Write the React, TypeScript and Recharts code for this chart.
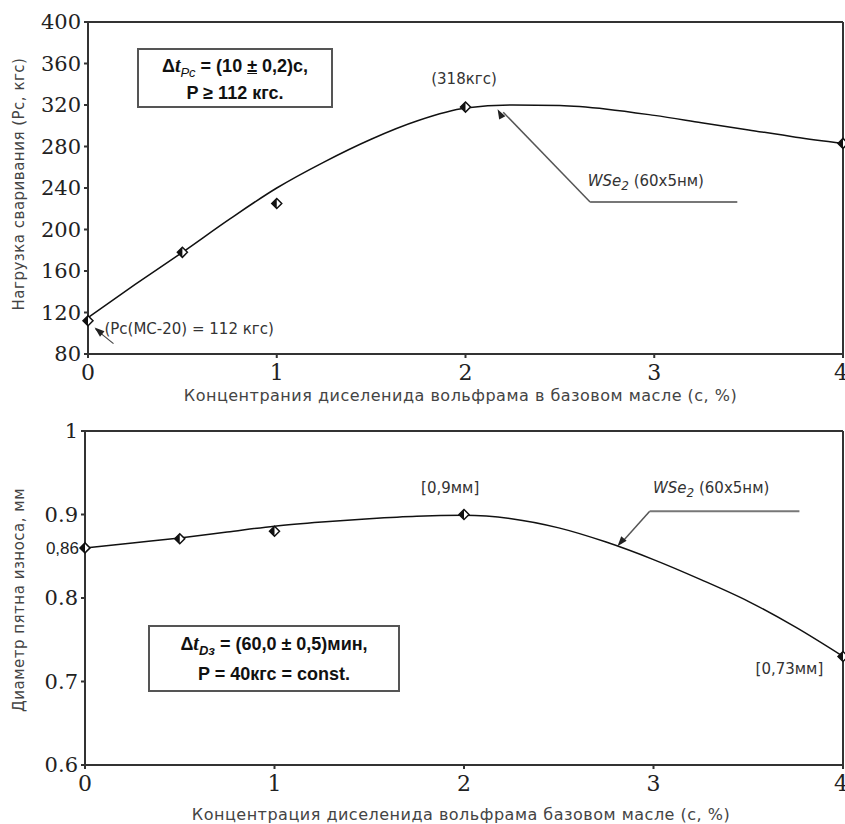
import React from 'react';
import { ComposedChart, Line, Scatter, XAxis, YAxis, ReferenceLine, ReferenceDot, Label } from 'recharts';

// ---- Top chart: weld load vs concentration ----
const topPointsX = [0, 0.5, 1, 2, 4];
const topPointsY = [112, 178, 225, 318, 283];
const topCurveX = [0, 0.25, 0.5, 0.75, 1, 1.25, 1.5, 1.75, 2, 2.25, 2.5, 2.75, 3, 3.25, 3.5, 3.75, 4];
const topCurveY = [115, 147, 178, 210, 240, 265, 287, 305, 317, 320, 319.5, 316, 310, 303, 296, 289, 283];
const topYTicks = [80, 120, 160, 200, 240, 280, 320, 360, 400];

// ---- Bottom chart: wear scar diameter vs concentration ----
const botPointsX = [0, 0.5, 1, 2, 4];
const botPointsY = [0.86, 0.871, 0.88, 0.9, 0.73];
const botCurveX = [0, 0.25, 0.5, 0.75, 1, 1.25, 1.5, 1.75, 2, 2.25, 2.5, 2.75, 3, 3.25, 3.5, 3.75, 4];
const botCurveY = [0.86, 0.866, 0.872, 0.879, 0.886, 0.891, 0.895, 0.898, 0.899, 0.895, 0.884, 0.867, 0.846, 0.822, 0.796, 0.765, 0.73];
const botYTicks = [0.6, 0.7, 0.8, 0.86, 0.9, 1];

const xTicks = [0, 1, 2, 3, 4];

const topPoints = topPointsX.map((x, i) => ({ x, y: topPointsY[i] }));
const topCurve = topCurveX.map((x, i) => ({ x, y: topCurveY[i] }));
const botPoints = botPointsX.map((x, i) => ({ x, y: botPointsY[i] }));
const botCurve = botCurveX.map((x, i) => ({ x, y: botCurveY[i] }));

const AX = '#333';
const SERIF = '"DejaVu Serif", "Liberation Serif", serif';
const SANS = '"DejaVu Sans", Arial, sans-serif';
const BOLD = '"Liberation Sans", Arial, sans-serif';

const Diamond = (props: any) => {
  const { cx, cy } = props;
  if (cx == null || cy == null) return null;
  const s = 5;
  return (
    <g>
      <polygon points={`${cx},${cy - s} ${cx + s},${cy} ${cx},${cy + s} ${cx - s},${cy}`} fill="#fff" stroke="#111" strokeWidth={1.5} />
      <polygon points={`${cx},${cy - s} ${cx},${cy + s} ${cx - s},${cy}`} fill="#111" />
    </g>
  );
};

const Arrow = (angleDeg: number) => (props: any) => {
  const { cx, cy } = props;
  if (cx == null || cy == null) return null;
  return (
    <polygon points={`${cx},${cy} ${cx + 10},${cy - 3.5} ${cx + 10},${cy + 3.5}`} fill="#222" transform={`rotate(${angleDeg} ${cx} ${cy})`} />
  );
};

const XTick = (props: any) => {
  const { x, y, payload } = props;
  return (
    <text x={x} y={y + 20} textAnchor="middle" fontFamily={SERIF} fontSize={22} fill="#222">{payload.value}</text>
  );
};

const YTickTop = (props: any) => {
  const { x, y, payload } = props;
  return (
    <text x={x - 1} y={y + 7} textAnchor="end" fontFamily={SERIF} fontSize={21} fill="#222">{payload.value}</text>
  );
};

const YTickBot = (props: any) => {
  const { x, y, payload } = props;
  if (payload.value === 0.86) {
    return <text x={x} y={y + 6} textAnchor="end" fontFamily={BOLD} fontSize={17} fill="#222">0,86</text>;
  }
  return (
    <text x={x - 1} y={y + 7} textAnchor="end" fontFamily={SERIF} fontSize={21} fill="#222">{payload.value}</text>
  );
};

const yLabel = (text: string, dy: number) => (p: any) => {
  const vb = p.viewBox;
  const x = 19;
  const y = vb.y + vb.height / 2 + dy;
  return (
    <text x={x} y={y} transform={`rotate(-90 ${x} ${y})`} textAnchor="middle" dominantBaseline="middle" fontFamily={SANS} fontSize={15} letterSpacing={0.5} fill="#444">{text}</text>
  );
};

const xLabel = (text: string, dx: number, yOff: number) => (p: any) => {
  const vb = p.viewBox;
  return (
    <text x={vb.x + vb.width / 2 + dx} y={vb.y + yOff} textAnchor="middle" fontFamily={SANS} fontSize={16} letterSpacing={0.5} fill="#444">{text}</text>
  );
};

const annoStyle = { fontFamily: SANS, fontSize: 15, fill: '#333' };

const boxStyle: React.CSSProperties = {
  position: 'absolute',
  border: '2px solid #555',
  boxSizing: 'border-box',
  background: '#fff',
  fontFamily: BOLD,
  fontWeight: 'bold',
  fontSize: 18,
  color: '#111',
  textAlign: 'center',
  whiteSpace: 'nowrap',
};

const txt = (content: React.ReactNode, anchor: string = 'start') => (p: any) => (
  <text x={p.viewBox.cx ?? p.viewBox.x} y={p.viewBox.cy ?? p.viewBox.y} textAnchor={anchor} {...annoStyle}>{content}</text>
);

const wse = (
  <>
    <tspan fontStyle="italic">WSe</tspan><tspan fontStyle="italic" fontSize={12} dy={4}>2</tspan><tspan dy={-4}> (60х5нм)</tspan>
  </>
);

export default function App() {
  return (
    <div style={{ position: 'absolute', left: 0, top: 0, width: 845, height: 824, background: '#fff' }}>
      <div style={{ position: 'absolute', left: 0, top: 0 }}>
        <ComposedChart width={845} height={412} margin={{ top: 22, right: 2, left: 0, bottom: 0 }}>
          <XAxis type="number" dataKey="x" domain={[0, 4]} ticks={xTicks} height={58} stroke={AX} strokeWidth={2} tickSize={4} tick={<XTick />}>
            <Label content={xLabel('Концентрания диселенида вольфрама в базовом масле (с, %)', -5, 47)} />
          </XAxis>
          <YAxis type="number" dataKey="y" domain={[80, 400]} ticks={topYTicks} width={88} stroke={AX} strokeWidth={2} tickSize={4} tick={<YTickTop />}>
            <Label content={yLabel('Нагрузка сваривания (Pc, кгс)', -4)} />
          </YAxis>
          <ReferenceLine y={400} stroke={AX} strokeWidth={2} />
          <ReferenceLine x={4} stroke={AX} strokeWidth={2} />
          <Line data={topCurve} dataKey="y" type="monotone" stroke="#111" strokeWidth={1.5} dot={false} isAnimationActive={false} />
          <Scatter data={topPoints} dataKey="y" shape={<Diamond />} isAnimationActive={false} />
          {/* WSe2 leader */}
          <ReferenceLine segment={[{ x: 2.2, y: 313 }, { x: 2.66, y: 226.5 }]} stroke="#555" strokeWidth={1.5} />
          <ReferenceLine segment={[{ x: 2.66, y: 226.5 }, { x: 3.44, y: 226.5 }]} stroke="#777" strokeWidth={2} />
          <ReferenceDot x={2.17} y={316} shape={Arrow(62)} />
          <ReferenceDot x={2.70} y={232} shape={() => null}>
            <Label content={txt(wse)} />
          </ReferenceDot>
          <ReferenceDot x={2.045} y={331} shape={() => null}>
            <Label content={txt('(318кгс)', 'middle')} />
          </ReferenceDot>
          {/* MC-20 leader */}
          <ReferenceLine segment={[{ x: 0.04, y: 104 }, { x: 0.135, y: 90 }]} stroke="#444" strokeWidth={1.2} />
          <ReferenceDot x={0.035} y={105.5} shape={Arrow(40)} />
          <ReferenceDot x={0.14} y={90} shape={() => null}>
            <Label content={txt('(Pc(MC-20) = 112 кгс)')} />
          </ReferenceDot>
        </ComposedChart>
        <div style={{ ...boxStyle, left: 137, top: 48, width: 196, height: 60 }}>
          <div style={{ lineHeight: '30px', paddingTop: 0 }}>
            Δ<i style={{ fontFamily: '"Liberation Serif", serif', fontSize: 20 }}>t</i><sub style={{ fontStyle: 'italic', fontWeight: 'normal', fontSize: 13, lineHeight: 0 }}>Pc</sub> = (10 <u>±</u> 0,2)с,
          </div>
          <div style={{ lineHeight: '24px' }}>P ≥ 112 кгс.</div>
        </div>
      </div>

      <div style={{ position: 'absolute', left: 0, top: 412 }}>
        <ComposedChart width={845} height={412} margin={{ top: 19, right: 2, left: 0, bottom: 0 }}>
          <XAxis type="number" dataKey="x" domain={[0, 4]} ticks={xTicks} height={59} stroke={AX} strokeWidth={2} tickSize={4} tick={<XTick />}>
            <Label content={xLabel('Концентрация диселенида вольфрама базовом масле (с, %)', -3, 55)} />
          </XAxis>
          <YAxis type="number" dataKey="y" domain={[0.6, 1]} ticks={botYTicks} width={85} stroke={AX} strokeWidth={2} tickSize={4} tick={<YTickBot />}>
            <Label content={yLabel('Диаметр пятна износа, мм', 2)} />
          </YAxis>
          <ReferenceLine y={1} stroke={AX} strokeWidth={2} />
          <ReferenceLine x={4} stroke={AX} strokeWidth={2} />
          <Line data={botCurve} dataKey="y" type="monotone" stroke="#111" strokeWidth={1.5} dot={false} isAnimationActive={false} />
          <Scatter data={botPoints} dataKey="y" shape={<Diamond />} isAnimationActive={false} />
          {/* WSe2 leader */}
          <ReferenceLine segment={[{ x: 2.83, y: 0.866 }, { x: 2.98, y: 0.904 }]} stroke="#555" strokeWidth={1.5} />
          <ReferenceLine segment={[{ x: 2.98, y: 0.904 }, { x: 3.77, y: 0.904 }]} stroke="#777" strokeWidth={2} />
          <ReferenceDot x={2.81} y={0.862} shape={Arrow(-50)} />
          <ReferenceDot x={3.05} y={0.914} shape={() => null}>
            <Label content={txt(wse)} />
          </ReferenceDot>
          <ReferenceDot x={1.98} y={0.914} shape={() => null}>
            <Label content={txt('[0,9мм]', 'middle')} />
          </ReferenceDot>
          <ReferenceDot x={3.77} y={0.697} shape={() => null}>
            <Label content={txt('[0,73мм]', 'middle')} />
          </ReferenceDot>
        </ComposedChart>
        <div style={{ ...boxStyle, left: 148, top: 213, width: 252, height: 67 }}>
          <div style={{ lineHeight: '32px', paddingTop: 0 }}>
            Δ<i style={{ fontFamily: '"Liberation Serif", serif', fontSize: 20 }}>t</i><sub style={{ fontStyle: 'italic', fontSize: 13, lineHeight: 0 }}>Dз</sub> = (60,0 ± 0,5)мин,
          </div>
          <div style={{ lineHeight: '28px' }}>P = 40кгс = const.</div>
        </div>
      </div>
    </div>
  );
}
